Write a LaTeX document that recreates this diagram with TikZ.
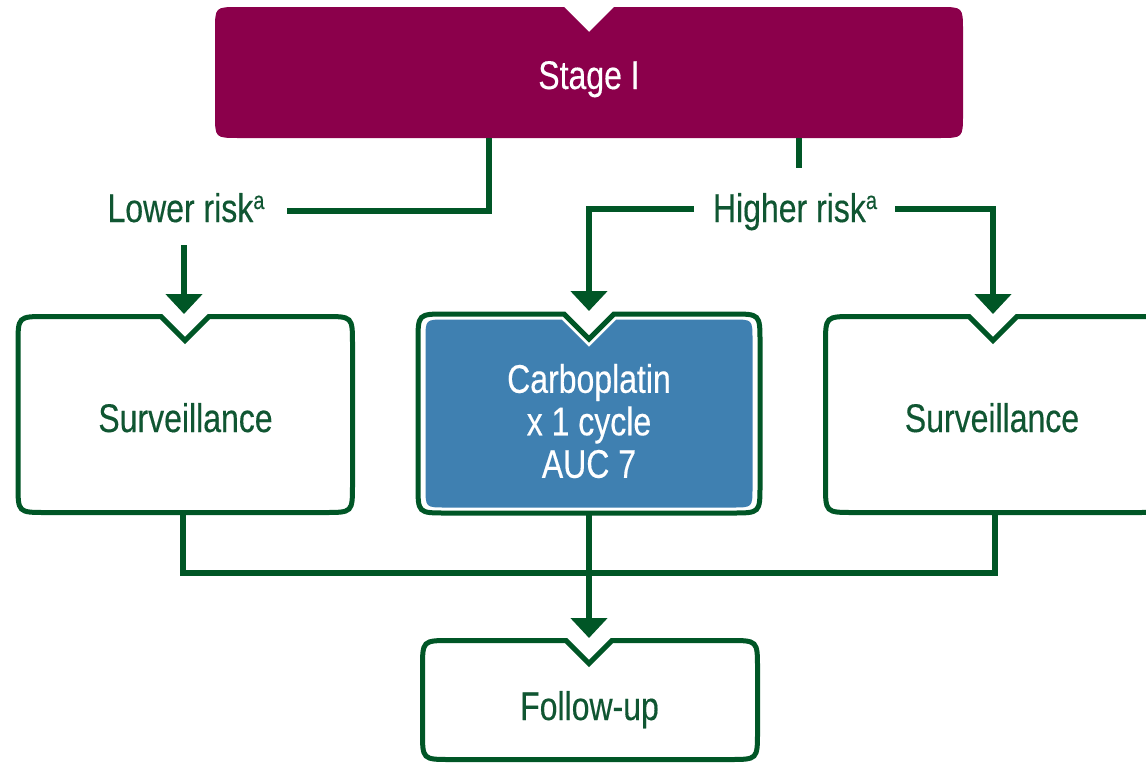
\documentclass[tikz,border=0pt]{standalone}
\usepackage{fontspec}
\setmainfont{Liberation Sans}[FakeStretch=0.8,FakeBold=0.3]
\usetikzlibrary{arrows.meta}

\definecolor{stageMagenta}{RGB}{139,0,75}
\definecolor{lineGreen}{RGB}{0,86,38}
\definecolor{textGreen}{RGB}{16,86,50}
\definecolor{boxBlue}{RGB}{63,128,177}

% rounded box whose top edge has a V-shaped notch
% #1 options, #2 x1, #3 y1 (top), #4 x2, #5 y2 (bottom), #6 notch x, #7 notch size, #8 corner radius
\newcommand{\notchbox}[8]{%
  \path[#1] (#6,#3+#7) -- (#6+#7,#3) -- (#4-#8,#3) .. controls (#4,#3) .. (#4,#3+#8)
    -- (#4,#5-#8) .. controls (#4,#5) .. (#4-#8,#5)
    -- (#2+#8,#5) .. controls (#2,#5) .. (#2,#5-#8)
    -- (#2,#3+#8) .. controls (#2,#3) .. (#2+#8,#3)
    -- (#6-#7,#3) -- cycle;}

\newcommand{\supa}{\raisebox{13pt}{\fontsize{25}{25}\selectfont a}}

\tikzset{
  lbl/.style={inner sep=0pt, text=textGreen, font=\fontsize{40}{42.5}\selectfont},
  conn/.style={draw=lineGreen, line width=6pt, line join=miter},
  arr/.style={conn, -{Triangle[width=36pt,length=20pt]}},
  frame/.style={draw=lineGreen, line width=5pt, line join=miter, fill=white}
}

\begin{document}
\begin{tikzpicture}[x=1pt,y=-1pt]
\useasboundingbox (0,0) rectangle (1146,763);
\clip (0,0) rectangle (1146,763);

% top box
\notchbox{fill=stageMagenta}{215}{7}{963}{138}{589}{25}{24}
\node[lbl, text=white, anchor=base] (stage) at (589,89) {Stage I};

% branch labels
\node[lbl, anchor=base] (lower) at (186,222) {Lower risk\supa};
\node[lbl, anchor=base] (higher) at (795,222) {Higher risk\supa};

% second row
\notchbox{frame}{18}{316.5}{352.5}{512.5}{185}{24}{28}
\node[lbl, anchor=base] (survL) at (185.5,432) {Surveillance};

\notchbox{frame}{418}{314}{760}{513}{589}{25}{28}
\notchbox{fill=boxBlue}{425.5}{319.5}{752.5}{507.5}{589}{27.3}{20}
\node[lbl, text=white, align=center] (carbo) at (589,421) {Carboplatin\\x 1 cycle\\AUC 7};

\notchbox{frame}{825.5}{316.5}{1165}{512.5}{993}{24}{28}
\node[lbl, anchor=base] (survR) at (992,432) {Surveillance};

% bottom box
\notchbox{frame}{422.5}{640.5}{757.5}{759.5}{589}{23}{28}
\node[lbl, anchor=base] (follow) at (589.5,720) {Follow-up};

% connector points
\coordinate (stageL) at (489,138);
\coordinate (stageR) at (799,138);
\coordinate (stageStub) at (799,168);
\coordinate (lowerEnd) at (287,211);
\coordinate (lowerStart) at (184,245);
\coordinate (higherW) at (694,209);
\coordinate (higherE) at (895,209);
\coordinate (survLtip) at (184,314);
\coordinate (carboTip) at (589,311);
\coordinate (survRtip) at (993,314);
\coordinate (survLbot) at (183,512.5);
\coordinate (survRbot) at (995,512.5);
\coordinate (carboBot) at (589,513);
\coordinate (followTip) at (589,638);
\coordinate (joinY) at (0,573);

% connectors
\draw[conn] (stageL) |- (lowerEnd);
\draw[conn] (stageR) -- (stageStub);
\draw[arr] (lowerStart) -- (survLtip);
\draw[arr] (higherW) -| (carboTip);
\draw[arr] (higherE) -| (survRtip);
\draw[conn] (survLbot) -- (survLbot |- joinY) -- (survRbot |- joinY) -- (survRbot);
\draw[arr] (carboBot) -- (followTip);
\end{tikzpicture}
\end{document}
